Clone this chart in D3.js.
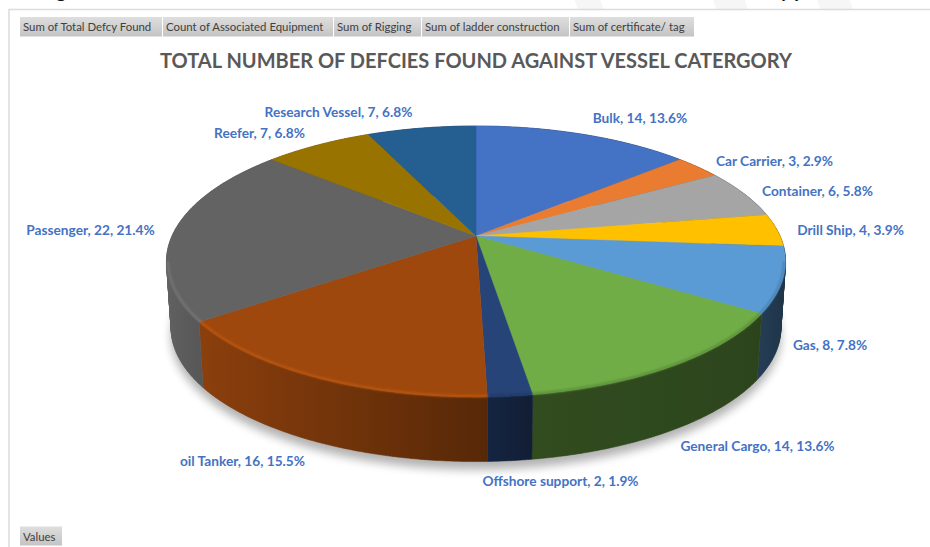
<!DOCTYPE html>
<html>
<head>
<meta charset="utf-8">
<script src="https://cdn.jsdelivr.net/npm/d3@7"></script>
<style>
  html, body { margin: 0; padding: 0; background: #fff; }
  svg { display: block; }
  text { font-family: Lato, "Open Sans", sans-serif; }
</style>
</head>
<body>
<svg id="chart" width="930" height="547"></svg>
<script>
// Vessel categories and their deficiency counts
const categories = ["Bulk", "Car Carrier", "Container", "Drill Ship", "Gas", "General Cargo",
  "Offshore support", "oil Tanker", "Passenger", "Reefer", "Research Vessel"];
const counts = [14, 3, 6, 4, 8, 14, 2, 16, 22, 7, 7];
const percents = ["13.6%", "2.9%", "5.8%", "3.9%", "7.8%", "13.6%", "1.9%", "15.5%", "21.4%", "6.8%", "6.8%"];
const sliceColors = ["#4472C4", "#E97C30", "#A5A5A5", "#FFC000", "#5B9BD5", "#70AD47",
  "#264478", "#9E480E", "#636363", "#997300", "#255E91"];

// Pivot field buttons across the top, and the one at the bottom
const fieldButtons = ["Sum of Total Defcy Found", "Count of Associated Equipment", "Sum of Rigging",
  "Sum of ladder construction", "Sum of certificate/ tag"];
const fieldEdges = [20, 163, 334, 422, 570, 695];
const titleText = "TOTAL NUMBER OF DEFCIES FOUND AGAINST VESSEL CATERGORY";

// Centre of each data label, in category order
const labelCentres = [[640, 118], [774.5, 161], [817.5, 191], [850.5, 230], [830, 345], [757.5, 446],
  [560.5, 481], [242.5, 461], [90.5, 230], [259.5, 133], [338.5, 112]];

const svg = d3.select("#chart");
const defs = svg.append("defs");

// Perspective disc: far edge is foreshortened, near edge is stretched
const cx = 476, cy = 236, radiusX = 304, tilt = 130.7, persp = 0.188;
const depth = 67, floorScale = 0.985;

function project(angle, scale, drop) {
  const X = Math.sin(angle), Y = Math.cos(angle), w = 1 + persp * Y;
  return [cx + scale * radiusX * X / w, cy + drop - scale * tilt * Y / w];
}
const line = d3.line();
const arcPoints = (a0, a1, scale, drop) => {
  const n = Math.max(2, Math.ceil((a1 - a0) / 0.01));
  return d3.range(n + 1).map(i => project(a0 + (a1 - a0) * i / n, scale, drop));
};

// A wall is a run of thin quads with one winding, so the tangent edge
// between the top disc and the base is filled as well
function wallPath(topArc, floorArc) {
  return d3.range(topArc.length - 1).map(i => {
    const quad = [topArc[i], topArc[i + 1], floorArc[i + 1], floorArc[i]];
    return line(d3.polygonArea(quad) < 0 ? quad.reverse() : quad) + "Z";
  }).join("");
}

const pie = d3.pie().sort(null).value(d => d)(counts);

defs.append("filter").attr("id", "soft").attr("x", "-10%").attr("y", "-10%").attr("width", "120%").attr("height", "130%")
  .append("feGaussianBlur").attr("stdDeviation", 5);
defs.append("filter").attr("id", "rimBlur").attr("x", "-10%").attr("y", "-10%").attr("width", "120%").attr("height", "120%")
  .append("feGaussianBlur").attr("stdDeviation", 0.8);

// Chart frame, with the header text of the page above it cut off at the top edge
svg.append("g").selectAll("line")
  .data([[578, 600], [716, 745], [820, 850]])
  .join("line")
  .attr("x1", d => d[0]).attr("y1", 9).attr("x2", d => d[1]).attr("y2", 0)
  .attr("stroke", "#f6f6f6").attr("stroke-width", 24);
svg.append("rect").attr("x", 0).attr("y", 9.5).attr("width", 930).attr("height", 538).attr("fill", "#fff");
svg.append("path").attr("d", "M9,547V9.5H930").attr("fill", "none").attr("stroke", "#dcdcdc").attr("stroke-width", 1.5);
svg.append("g").attr("fill", "#111").attr("font-weight", 700).attr("font-size", 19)
  .selectAll("text").data([["g", 56], ["y p", 780]]).join("text")
  .attr("x", d => d[1]).attr("y", -2.5).text(d => d[0]);

// Field buttons
const btnGrad = defs.append("linearGradient").attr("id", "btn").attr("x1", 0).attr("y1", 0).attr("x2", 0).attr("y2", 1);
btnGrad.append("stop").attr("offset", 0).attr("stop-color", "#dedede");
btnGrad.append("stop").attr("offset", 1).attr("stop-color", "#c4c4c4");

const buttons = svg.append("g").selectAll("g").data(fieldButtons).join("g");
buttons.append("rect")
  .attr("x", (d, i) => fieldEdges[i]).attr("y", 17)
  .attr("width", (d, i) => fieldEdges[i + 1] - fieldEdges[i] - 1).attr("height", 19.5)
  .attr("fill", "url(#btn)");
buttons.append("text")
  .attr("x", (d, i) => fieldEdges[i] + 3).attr("y", 31)
  .attr("font-size", 11.4).attr("fill", "#404040").text(d => d);

const valuesBtn = svg.append("g");
valuesBtn.append("rect").attr("x", 20).attr("y", 526.5).attr("width", 42).attr("height", 19).attr("fill", "url(#btn)");
valuesBtn.append("text").attr("x", 23).attr("y", 540.5)
  .attr("font-size", 11.4).attr("fill", "#404040").text("Values");

// Title
svg.append("text").attr("x", 476).attr("y", 68).attr("text-anchor", "middle")
  .attr("font-size", 20).attr("font-weight", 700).attr("fill", "#595959").text(titleText);

// Soft shadow under the base of the pie
svg.append("path")
  .attr("d", line(arcPoints(0, 2 * Math.PI, floorScale, depth + 8)) + "Z")
  .attr("fill", "#000").attr("opacity", 0.3).attr("filter", "url(#soft)");

// Side wall brightness falls off from left to right
const wallShade = d3.scaleLinear()
  .domain([166, 200, 487, 530, 760, 790])
  .range([0.98, 0.88, 0.55, 0.44, 0.4, 0.32]);
const shaded = (hex, k) => {
  const c = d3.rgb(hex);
  return d3.rgb(c.r * k, c.g * k, c.b * k).formatHex();
};

const walls = svg.append("g");
pie.forEach((d, i) => {
  const topArc = arcPoints(d.startAngle, d.endAngle, 1, 0);
  const floorArc = arcPoints(d.startAngle, d.endAngle, floorScale, depth);
  const xs = d3.extent(topArc, p => p[0]);
  const grad = defs.append("linearGradient").attr("id", "wall" + i)
    .attr("gradientUnits", "userSpaceOnUse")
    .attr("x1", xs[0]).attr("x2", xs[1]).attr("y1", 0).attr("y2", 0);
  d3.range(9).forEach(s => {
    const t = s / 8;
    grad.append("stop").attr("offset", t)
      .attr("stop-color", shaded(sliceColors[i], wallShade(xs[0] + (xs[1] - xs[0]) * t)));
  });
  walls.append("path").attr("d", wallPath(topArc, floorArc))
    .attr("fill", `url(#wall${i})`).attr("stroke", `url(#wall${i})`).attr("stroke-width", 0.5);
});

// Top face of each slice
svg.append("g").selectAll("path").data(pie).join("path")
  .attr("d", d => line([[cx, cy]].concat(arcPoints(d.startAngle, d.endAngle, 1, 0))) + "Z")
  .attr("fill", (d, i) => sliceColors[i])
  .attr("stroke", (d, i) => sliceColors[i]).attr("stroke-width", 0.4);

// Bevel along the near rim: a light line on the left, a dark one on the right
const rim = svg.append("g").attr("fill", "none").attr("filter", "url(#rimBlur)");
pie.forEach((d, i) => {
  const a0 = Math.max(d.startAngle, Math.PI * 0.56), a1 = Math.min(d.endAngle, Math.PI * 1.44);
  if (a1 <= a0) return;
  const leftSide = (a0 + a1) / 2 > Math.PI;
  rim.append("path").attr("d", line(arcPoints(a0, a1, 0.995, 0)))
    .attr("stroke", leftSide ? d3.color(sliceColors[i]).brighter(0.55).formatHex()
                             : d3.color(sliceColors[i]).darker(0.6).formatHex())
    .attr("stroke-width", 2);
});

// Data labels: category, count, share
svg.append("g").selectAll("text").data(categories).join("text")
  .attr("x", (d, i) => labelCentres[i][0]).attr("y", (d, i) => labelCentres[i][1] + 4.5)
  .attr("text-anchor", "middle").attr("font-size", 13.7).attr("font-weight", 700).attr("fill", "#4472C4")
  .text((d, i) => `${d}, ${counts[i]}, ${percents[i]}`);
</script>
</body>
</html>
